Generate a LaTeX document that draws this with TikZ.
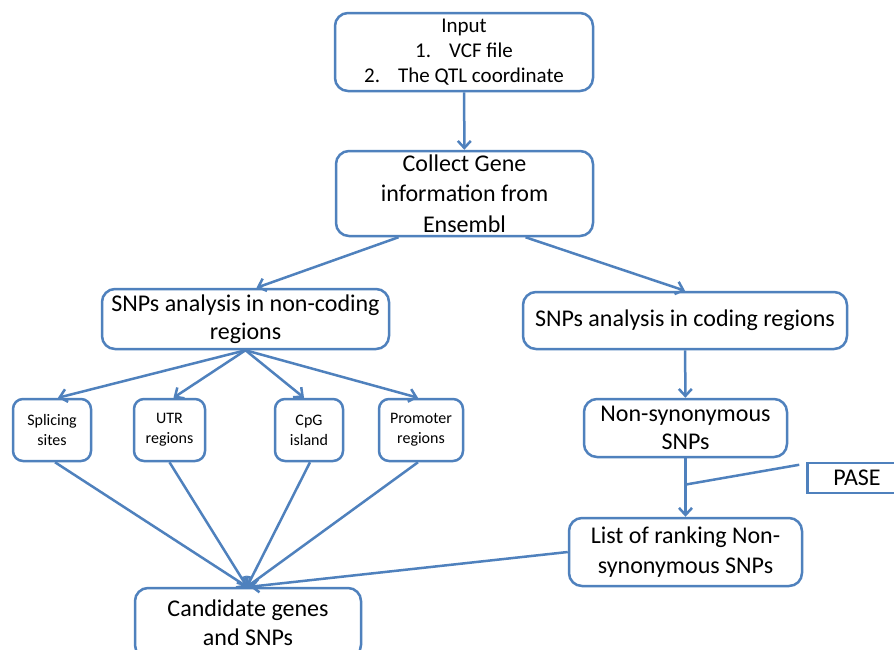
\documentclass[tikz,border=0pt]{standalone}
\usepackage{fontspec}
\setmainfont{Carlito}
\usepackage{tikz}
\usetikzlibrary{calc}
\usetikzlibrary{arrows.meta}
\usetikzlibrary{positioning}
\definecolor{officeblue}{RGB}{79, 129, 189}

\tikzset{
  stepbox/.style={draw=officeblue, line width=2.5pt, rounded corners=13pt, align=center, inner sep=0pt,
                  font=\fontsize{24}{28.5}\selectfont},
  smallbox/.style={stepbox, rounded corners=10pt, minimum width=75pt, minimum height=62pt,
                   font=\fontsize{16}{20}\selectfont},
  flow/.style={draw=officeblue, line width=2.5pt, -{Straight Barb[length=7pt, width=13pt, line width=2.5pt]}}
}

\begin{document}
\begin{tikzpicture}[x=1pt, y=-1pt]
            \useasboundingbox (0,0) rectangle (894,649);
            \fill[white] (0,0) rectangle (894,649);
            \clip (0,0) rectangle (894,649);
            \node[stepbox, minimum width=258pt, minimum height=78pt, font=\fontsize{21}{25}\selectfont] (input)      at (464,52)    {Input\\1.\hspace{18pt}VCF file\\2.\hspace{18pt}The QTL coordinate};
            \node[stepbox, minimum width=257pt, minimum height=85pt, font=\fontsize{24}{30.5}\selectfont] (collect)    at (464.5,193.5) {Collect Gene\\information from\\Ensembl};
            \node[stepbox, minimum width=287pt, minimum height=60pt]  (noncoding)  at (245.5,319)  {SNPs analysis in non-coding\\regions};
            \node[stepbox, minimum width=324pt, minimum height=57pt]  (coding)     at (685,320.5)  {SNPs analysis in coding regions};
            \node[smallbox, minimum width=78pt]                       (splicing)   at (52,430)     {Splicing\\sites};
            \node[smallbox, minimum width=71pt]                       (utr)        at (169.5,430)  {UTR\\regions};
            \node[smallbox, minimum width=68pt]                       (cpg)        at (309,430)    {CpG\\island};
            \node[smallbox, minimum width=84pt]                       (promoter)   at (421,430)    {Promoter\\regions};
            \node[stepbox, minimum width=226pt, minimum height=70pt, font=\fontsize{24}{29}\selectfont] (candidate)  at (248,623)    {Candidate genes\\and SNPs};
            \node[stepbox, minimum width=203pt, minimum height=58pt]  (nonsyn)     at (685.5,428)  {Non-synonymous\\SNPs};
            \node[stepbox, minimum width=233pt, minimum height=68pt, font=\fontsize{24}{30}\selectfont] (list)       at (685.5,552)  {List of ranking Non-\\synonymous SNPs};
            \node[stepbox, rounded corners=0pt, minimum width=99pt, minimum height=30pt] (pase) at (857,478) {PASE};
            \draw[flow] (input)                        -- (collect);
            \draw[flow] ($(collect.south)+(-66,0)$)    -- ($(noncoding.north)+(11,0)$);
            \draw[flow] ($(collect.south)+(61,0)$)     -- (coding.north);
            \draw[flow] (noncoding.south)              -- ($(splicing.north)+(6,0)$);
            \draw[flow] (noncoding.south)              -- ($(utr.north)+(4,0)$);
            \draw[flow] (noncoding.south)              -- ($(cpg.north)+(-5,0)$);
            \draw[flow] (noncoding.south)              -- ($(promoter.north)+(-3,0)$);
            \foreach \src/\dx in {splicing/3, utr/0, cpg/1, promoter/-3}
                \draw[flow] ($(\src.south)+(\dx,0)$)   -- ($(candidate.north)+(-1,0)$);
            \draw[flow] (list.west)                    -- ($(candidate.north)+(2,0)$);
            \draw[flow] (coding)                       -- (nonsyn);
            \draw[flow] (nonsyn)                       -- (list);
            \coordinate (join) at ($(nonsyn.south)!0.45!(list.north)$);
            \draw[officeblue, line width=2.5pt] ($(pase.north west)+(-7,3)$) -- (join);
        \end{tikzpicture}
\end{document}
